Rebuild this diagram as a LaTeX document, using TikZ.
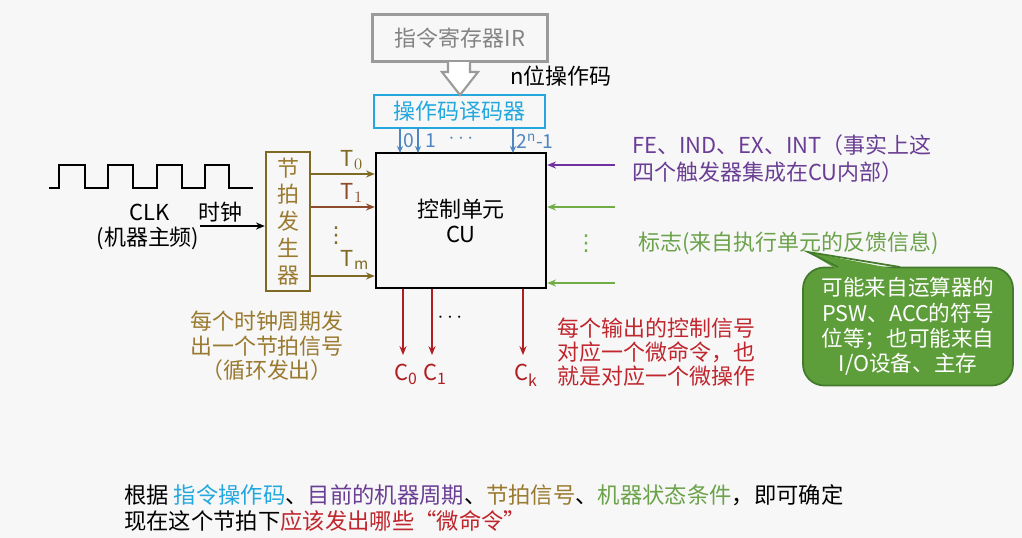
\documentclass[tikz,border=0pt]{standalone}
\usepackage{fontspec}
\setmainfont{Noto Sans CJK SC}
\newfontfamily\symfont{DejaVu Sans}
\usetikzlibrary{arrows.meta,positioning}
\lineskiplimit=-\maxdimen
\definecolor{irgray}{HTML}{9A9A9A}
\definecolor{cyanblue}{HTML}{22A8DE}
\definecolor{pinblue}{HTML}{4F86C0}
\definecolor{olive}{HTML}{7E6A22}
\definecolor{olivetext}{HTML}{9A7A30}
\definecolor{rust}{HTML}{8E4A2C}
\definecolor{violet}{HTML}{7030A0}
\definecolor{violettext}{HTML}{6A3E94}
\definecolor{leaf}{HTML}{70AD47}
\definecolor{leaftext}{HTML}{6BA24A}
\definecolor{bubble}{HTML}{5E9E3A}
\definecolor{bubbleedge}{HTML}{437A2C}
\definecolor{wine}{HTML}{B01E22}
\definecolor{winetext}{HTML}{C0262D}
\tikzset{
  txt/.style={font=\fontsize{12.5}{15}\selectfont, inner sep=0pt},
  unitbox/.style={draw, line width=1.4pt, minimum width=3.4cm, minimum height=2.7cm, align=center, txt},
  sig/.style={-{Stealth[length=5pt,width=4pt]}, line width=1pt},
  pin/.style={-{Stealth[length=4pt,width=3.5pt]}, pinblue, line width=0.6pt},
  vdot/.style={inner sep=0pt, font=\symfont\fontsize{12.5}{14}\selectfont}
}
\begin{document}
\begin{tikzpicture}[x=0.02cm, y=-0.02cm]
  \fill[black!3] (0,0) rectangle (1022,538);
  % instruction register and decoder
  \node[draw=irgray, line width=1.4pt, text=irgray!85!black, minimum width=3.5cm, minimum height=0.94cm, txt] (ir) at (460,38) {指令寄存器IR};
  \node[draw=cyanblue, line width=1.4pt, text=cyanblue, minimum width=3.42cm, minimum height=0.66cm, txt] (dec) at (459.5,111.5) {操作码译码器};
  \draw[irgray, line width=1.2pt, fill=white] (448,62) -- (448,72) -- (442,72) -- (460,95) -- (478,72) -- (470,72) -- (470,62);
  \node[txt, anchor=west] (nbit) at (510,76) {n位操作码};
  % control unit
  \node[unitbox, font=\fontsize{12.5}{14.2}\selectfont] (cu) at (461,220.5) {控制单元\\CU};
  \foreach \px/\lab/\off in {400/0/9, 418/1/13, 513/{2\textsuperscript{\textit{n}}-1}/22} {
    \draw[pin] (\px,128) -- (\px,153);
    \node[txt, text=pinblue, font=\fontsize{11}{13}\selectfont] at (\px+\off,141) {\lab};
  }
  \node[txt, text=pinblue] (pdots) at (461,139) {$\cdots$};
  % clock and beat generator
  \draw[line width=1pt] (49,188) -- (59,188) -- (59,165) -- (85,165) -- (85,188) -- (108,188) -- (108,165) -- (133,165) -- (133,188) -- (157,188) -- (157,165) -- (182,165) -- (182,188) -- (205,188) -- (205,165) -- (229,165) -- (229,188) -- (253,188);
  \node[txt] (clk) at (150,212) {CLK};
  \node[txt] (clkf) at (148,238) {(机器主频)};
  \node[txt] (clkin) at (220,212) {时钟};
  \node[draw=olive, line width=1.4pt, minimum width=0.88cm, minimum height=2.72cm, align=center, text=olivetext, font=\fontsize{12.5}{15.3}\selectfont] (beat) at (288,221.5) {节\\拍\\发\\生\\器};
  \coordinate (clksrc) at (200,226);
  \draw[sig] (clksrc) -- (clksrc -| beat.west);
  \draw[sig, olive] (beat.east |- 0,174) -- (cu.west |- 0,174);
  \draw[sig, rust] (beat.east |- 0,207) -- (cu.west |- 0,207);
  \draw[sig, olive] (beat.east |- 0,276) -- (cu.west |- 0,276);
  \node[txt, text=olive] (t0) at (352,160) {$\mathrm{T}_0$};
  \node[txt, text=rust] (t1) at (352,193) {$\mathrm{T}_1$};
  \node[vdot, text=olive] (tdots) at (336,236) {⋮};
  \node[txt, text=olive] (tm) at (355,260) {$\mathrm{T}_\mathrm{m}$};
  \node[txt, text=olivetext, align=center, font=\fontsize{12.5}{13.9}\selectfont] (beatnote) at (267,346) {每个时钟周期发\\出一个节拍信号\\（循环发出）};
  % inputs from the right
  \coordinate (ffsrc) at (615,165);
  \coordinate (flag1) at (615,207);
  \coordinate (flag2) at (615,283);
  \draw[sig, violet] (ffsrc) -- (ffsrc -| cu.east);
  \draw[sig, leaf] (flag1) -- (flag1 -| cu.east);
  \draw[sig, leaf] (flag2) -- (flag2 -| cu.east);
  \node[vdot, text=leaf] (fdots) at (586,244) {⋮};
  \node[txt, text=violettext, align=left, anchor=west, font=\fontsize{12.5}{15.3}\selectfont] (ffnote) at (632,158.5) {FE、IND、EX、INT（事实上这\\四个触发器集成在CU内部）};
  \node[txt, text=leaftext, anchor=west] (flagnote) at (638,243) {标志(来自执行单元的反馈信息)};
  \node[fill=bubble, draw=bubbleedge, line width=1pt, rounded corners=12pt, minimum width=4.2cm, minimum height=2.36cm, text=white, align=center, font=\fontsize{12.3}{14.4}\selectfont, inner sep=0pt] (bub) at (908,326.5) {可能来自运算器的\\PSW、ACC的符号\\位等；也可能来自\\I/O设备、主存};
  \fill[bubble] (838,270) -- (808,252) -- (900,270) -- cycle;
  \draw[bubbleedge, line width=1pt] (838,267) -- (808,252) -- (900,267);
  % control signal outputs
  \foreach \px/\nm/\lab in {403/c0/0, 432/c1/1, 523/ck/k} {
    \coordinate (\nm) at (\px,355);
    \draw[sig, wine] (cu.south -| \nm) -- (\nm);
    \node[txt, text=wine, anchor=north] at (\px+3,364) {C\textsubscript{\fontsize{9}{10}\selectfont\lab}};
  }
  \node[txt] (cdots) at (450,318) {$\cdots$};
  \node[txt, text=winetext, align=left, anchor=west, font=\fontsize{12.5}{13.6}\selectfont] (cnote) at (557,352) {每个输出的控制信号\\对应一个微命令，也\\就是对应一个微操作};
  % summary
  \node[txt, anchor=west, font=\fontsize{12.7}{15}\selectfont] (sum1) at (124,495) {根据 \textcolor{cyanblue}{指令操作码}、\textcolor{violettext}{目前的机器周期}、\textcolor{olivetext}{节拍信号}、\textcolor{leaftext}{机器状态条件}，即可确定};
  \node[txt, anchor=west, font=\fontsize{12.7}{15}\selectfont] (sum2) at (124,521) {现在这个节拍下\textcolor{winetext}{应该发出哪些“微命令”}};
\end{tikzpicture}
\end{document}
